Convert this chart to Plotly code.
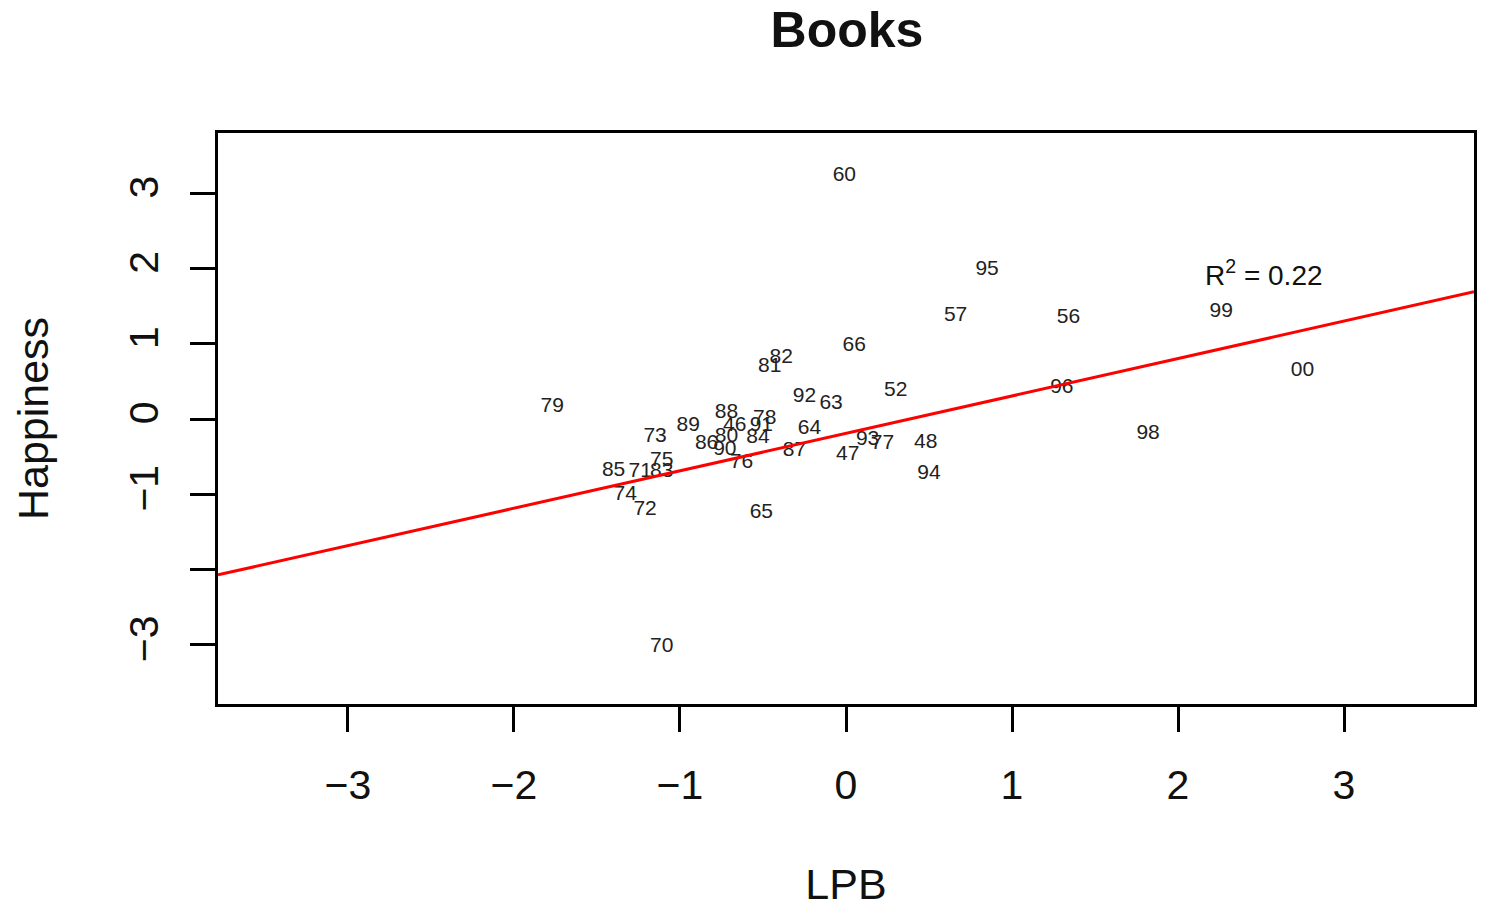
import plotly.graph_objects as go

labels = ["60","95","57","56","99","00","96","98","66","82","81","92","63","52","79",
          "64","93","77","48","47","87","94","65","70","73","89","88","46","78","91",
          "84","80","86","90","76","75","85","71","83","74","72"]
lpb = [-0.01, 0.85, 0.66, 1.34, 2.26, 2.75, 1.30, 1.82, 0.05, -0.39, -0.46, -0.25, -0.09, 0.30, -1.77,
       -0.22, 0.13, 0.22, 0.48, 0.01, -0.31, 0.50, -0.51, -1.11, -1.15, -0.95, -0.72, -0.67, -0.49, -0.51,
       -0.53, -0.72, -0.84, -0.73, -0.63, -1.11, -1.40, -1.24, -1.11, -1.33, -1.21]
happiness = [3.23, 1.98, 1.37, 1.34, 1.42, 0.64, 0.41, -0.20, 0.97, 0.81, 0.70, 0.29, 0.20, 0.37, 0.17,
             -0.13, -0.27, -0.33, -0.32, -0.48, -0.42, -0.72, -1.25, -3.03, -0.23, -0.09, 0.09, -0.09, 0.01, -0.09,
             -0.25, -0.23, -0.33, -0.41, -0.58, -0.56, -0.69, -0.70, -0.70, -1.00, -1.20]

fit_intercept = -0.19
fit_slope = 0.497
r2_text = "R<sup>2</sup> = 0.22"

x_ticks = [-3, -2, -1, 0, 1, 2, 3]
x_ticktext = ["\u22123", "\u22122", "\u22121", "0", "1", "2", "3"]
y_ticks = [-3, -2, -1, 0, 1, 2, 3]
y_ticktext = ["\u22123", "", "\u22121", "0", "1", "2", "3"]

x_range = [-3.783, 3.783]
y_range = [-3.785, 3.80]

FONT = "Liberation Sans, Arial, sans-serif"

fig = go.Figure()
fig.add_trace(go.Scatter(
    x=lpb, y=happiness, mode="text", text=labels,
    textposition="middle center",
    textfont=dict(family=FONT, size=21, color="#222222"),
    showlegend=False, hoverinfo="skip"))

line_x = x_range
line_y = [fit_intercept + fit_slope * v for v in line_x]
fig.add_trace(go.Scatter(
    x=line_x, y=line_y, mode="lines",
    line=dict(color="#ff0000", width=3),
    showlegend=False, hoverinfo="skip"))

fig.add_annotation(x=2.15, y=1.94, xref="x", yref="y", text=r2_text,
                   showarrow=False, xanchor="left", yanchor="middle",
                   font=dict(family=FONT, size=28, color="#111111"))

axis_common = dict(
    showgrid=False, zeroline=False, showline=True, mirror=True,
    linecolor="black", linewidth=3, ticks="outside", ticklen=25,
    tickwidth=3, tickcolor="black", automargin=False,
    tickfont=dict(family=FONT, size=41, color="#111111"),
)

fig.update_layout(
    width=1486, height=908,
    margin=dict(l=218, r=12, t=133, b=204),
    paper_bgcolor="white", plot_bgcolor="white",
    title=dict(text="<b>Books</b>", x=0.570, xanchor="center", y=0.968, yanchor="middle",
               font=dict(family=FONT, size=50, color="#111111")),
    xaxis=dict(range=x_range, tickmode="array", tickvals=x_ticks, ticktext=x_ticktext,
               ticklabelstandoff=18,
               title=dict(text="LPB", font=dict(family=FONT, size=43, color="#111111"), standoff=90),
               **axis_common),
    yaxis=dict(range=y_range, tickmode="array", tickvals=y_ticks, ticktext=y_ticktext,
               tickangle=-90, ticklabelstandoff=16,
               title=dict(text="Happiness", font=dict(family=FONT, size=43, color="#111111"), standoff=59),
               **axis_common),
)

fig.write_html("out.html", config={"displayModeBar": False},
               post_script="document.body.style.margin='0';document.body.style.overflow='hidden';")
